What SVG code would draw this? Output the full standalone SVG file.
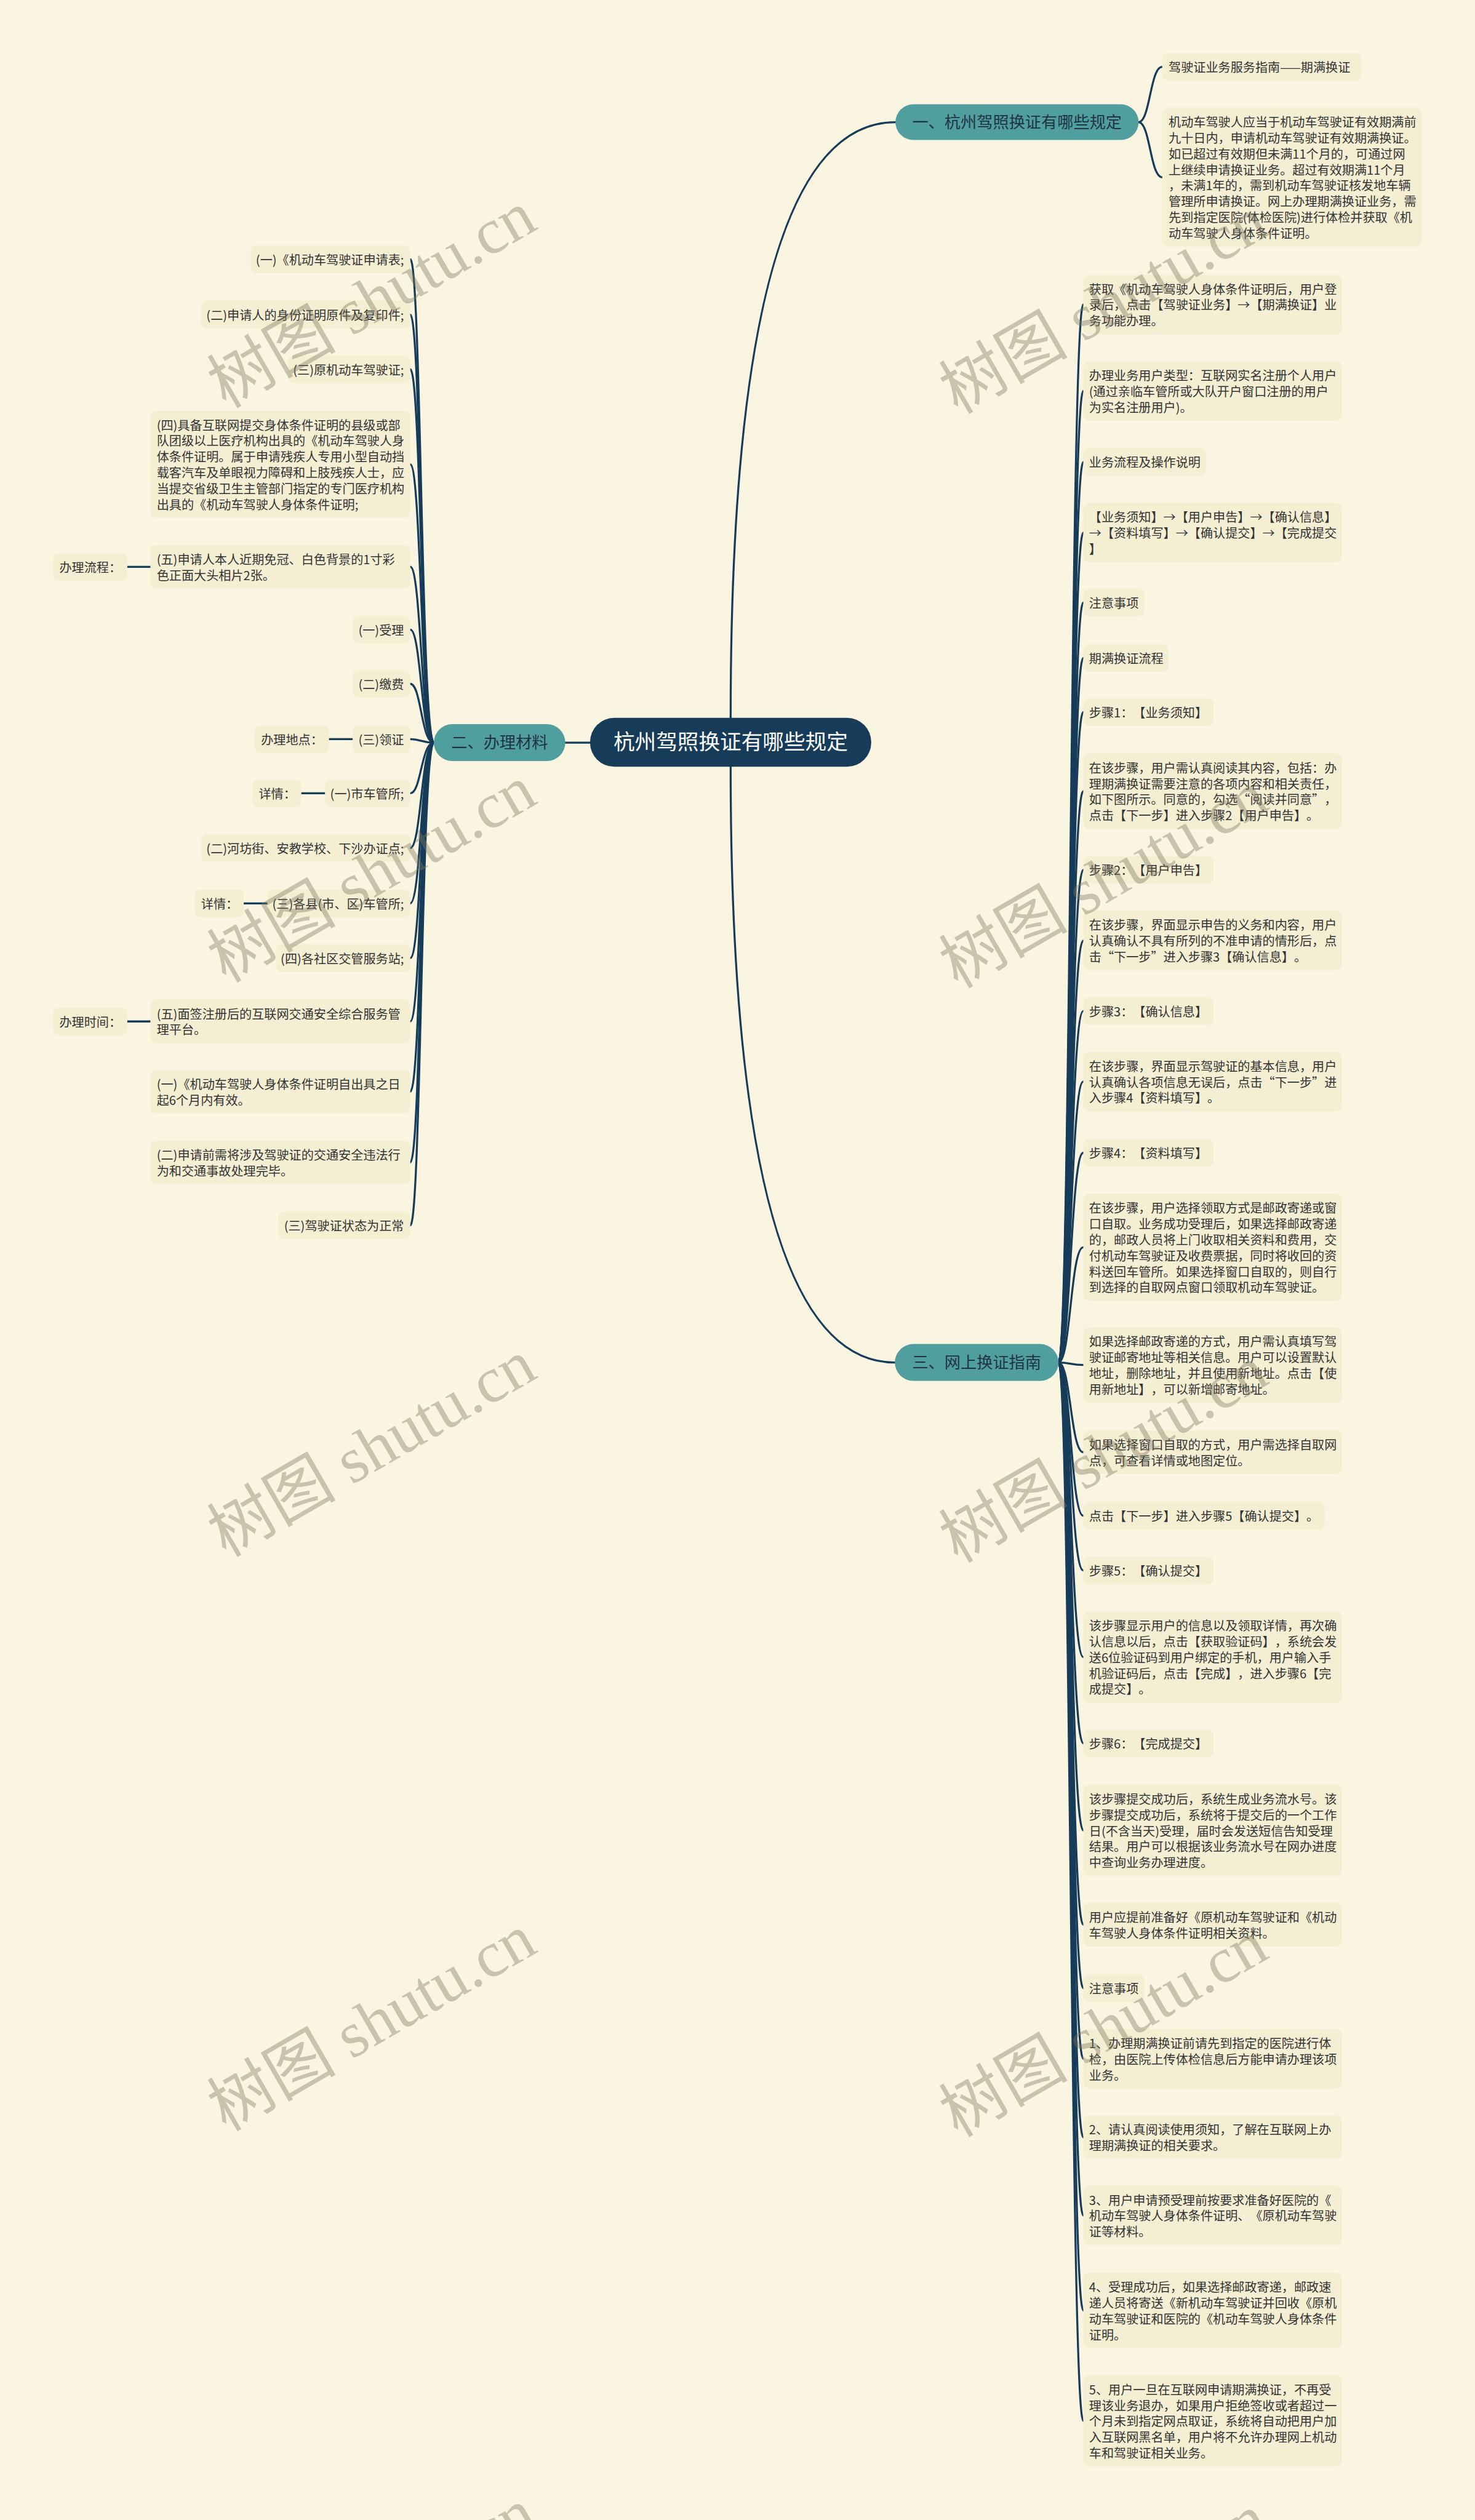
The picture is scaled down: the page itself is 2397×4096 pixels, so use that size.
<svg xmlns="http://www.w3.org/2000/svg" width="2397" height="4096" viewBox="0 0 2397 4096">
<style>
.lf{fill:#f4eed2}
.t{font-family:"Noto Sans CJK SC","Noto Sans",sans-serif;font-size:21.5px;fill:#333;text-spacing-trim:space-all}
.e{text-anchor:end}
.br{fill:#519e9f}
.bt{font-family:"Noto Sans CJK SC","Noto Sans",sans-serif;font-size:28px;fill:#1f3542;text-anchor:middle}
.rt{font-family:"Noto Sans CJK SC","Noto Sans",sans-serif;font-size:37px;fill:#ffffff;text-anchor:middle}
.c{fill:none;stroke:#173c5a;stroke-width:3.5;stroke-linecap:round}
.wm{font-family:"Liberation Serif","Noto Sans CJK SC",serif;font-size:112px;fill:#7d7760;fill-opacity:0.4;text-anchor:middle}
</style>
<rect x="0" y="0" width="2397" height="4096" fill="#faf5e1"/>
<g transform="scale(0.9364)">
<g id="connectors">
<path class="c" d="M1268,1246 Q1268,212 1554,212"/>
<path class="c" d="M1268,1331 Q1268,2365 1553,2365"/>
<path class="c" d="M1024,1289 L981,1289"/>
<path class="c" d="M1976,212 C1996,212 1996,116 2017,116"/>
<path class="c" d="M1976,212 C1996,212 1996,307.6 2017,307.6"/>
<path class="c" d="M1837,2365 C1858,2365 1858,528.6 1880,528.6"/>
<path class="c" d="M1837,2365 C1858,2365 1858,678.6 1880,678.6"/>
<path class="c" d="M1837,2365 C1858,2365 1858,802 1880,802"/>
<path class="c" d="M1837,2365 C1858,2365 1858,924.6 1880,924.6"/>
<path class="c" d="M1837,2365 C1858,2365 1858,1046 1880,1046"/>
<path class="c" d="M1837,2365 C1858,2365 1858,1142 1880,1142"/>
<path class="c" d="M1837,2365 C1858,2365 1858,1236 1880,1236"/>
<path class="c" d="M1837,2365 C1858,2365 1858,1373.4 1880,1373.4"/>
<path class="c" d="M1837,2365 C1858,2365 1858,1510 1880,1510"/>
<path class="c" d="M1837,2365 C1858,2365 1858,1632.6 1880,1632.6"/>
<path class="c" d="M1837,2365 C1858,2365 1858,1755 1880,1755"/>
<path class="c" d="M1837,2365 C1858,2365 1858,1877.6 1880,1877.6"/>
<path class="c" d="M1837,2365 C1858,2365 1858,2001 1880,2001"/>
<path class="c" d="M1837,2365 C1858,2365 1858,2165 1880,2165"/>
<path class="c" d="M1837,2365 C1858,2365 1858,2369.4 1880,2369.4"/>
<path class="c" d="M1837,2365 C1858,2365 1858,2520.8 1880,2520.8"/>
<path class="c" d="M1837,2365 C1858,2365 1858,2631 1880,2631"/>
<path class="c" d="M1837,2365 C1858,2365 1858,2726 1880,2726"/>
<path class="c" d="M1837,2365 C1858,2365 1858,2876.2 1880,2876.2"/>
<path class="c" d="M1837,2365 C1858,2365 1858,3026 1880,3026"/>
<path class="c" d="M1837,2365 C1858,2365 1858,3177.2 1880,3177.2"/>
<path class="c" d="M1837,2365 C1858,2365 1858,3340.8 1880,3340.8"/>
<path class="c" d="M1837,2365 C1858,2365 1858,3451 1880,3451"/>
<path class="c" d="M1837,2365 C1858,2365 1858,3573.6 1880,3573.6"/>
<path class="c" d="M1837,2365 C1858,2365 1858,3709.8 1880,3709.8"/>
<path class="c" d="M1837,2365 C1858,2365 1858,3845.6 1880,3845.6"/>
<path class="c" d="M1837,2365 C1858,2365 1858,4010.4 1880,4010.4"/>
<path class="c" d="M1837,2365 C1858,2365 1858,4202.2 1880,4202.2"/>
<path class="c" d="M753,1289 C731,1289 731,450 712,450"/>
<path class="c" d="M753,1289 C731,1289 731,546 712,546"/>
<path class="c" d="M753,1289 C731,1289 731,641 712,641"/>
<path class="c" d="M753,1289 C731,1289 731,806 712,806"/>
<path class="c" d="M753,1289 C731,1289 731,983.8 712,983.8"/>
<path class="c" d="M753,1289 C731,1289 731,1093 712,1093"/>
<path class="c" d="M753,1289 C731,1289 731,1187 712,1187"/>
<path class="c" d="M753,1289 C731,1289 731,1283 712,1283"/>
<path class="c" d="M753,1289 C731,1289 731,1377 712,1377"/>
<path class="c" d="M753,1289 C731,1289 731,1472 712,1472"/>
<path class="c" d="M753,1289 C731,1289 731,1568 712,1568"/>
<path class="c" d="M753,1289 C731,1289 731,1663 712,1663"/>
<path class="c" d="M753,1289 C731,1289 731,1772.8 712,1772.8"/>
<path class="c" d="M753,1289 C731,1289 731,1894.8 712,1894.8"/>
<path class="c" d="M753,1289 C731,1289 731,2017.8 712,2017.8"/>
<path class="c" d="M753,1289 C731,1289 731,2127 712,2127"/>
<path class="c" d="M221,984 L261,984"/>
<path class="c" d="M571,1283 L612,1283"/>
<path class="c" d="M523,1377 L564,1377"/>
<path class="c" d="M423,1568 L464,1568"/>
<path class="c" d="M221,1773 L261,1773"/>
</g>
<g id="root"><rect x="1024" y="1246" width="488" height="85" rx="42" fill="#173c5a"/><text class="rt" x="1268" y="1301">杭州驾照换证有哪些规定</text></g>
<g id="b1"><rect class="br" x="1554" y="181" width="422" height="62" rx="31"/><text class="bt" x="1765" y="222">一、杭州驾照换证有哪些规定</text></g>
<g id="b2"><rect class="br" x="753" y="1257" width="228" height="64" rx="32"/><text class="bt" x="867" y="1299">二、办理材料</text></g>
<g id="b3"><rect class="br" x="1553" y="2333" width="284" height="64" rx="32"/><text class="bt" x="1695" y="2375">三、网上换证指南</text></g>

<g id="b1c1"><rect class="lf" x="2017" y="92" width="346" height="48" rx="10"/><text class="t" x="2028" y="125">驾驶证业务服务指南——期满换证</text></g>
<g id="b1c2"><rect class="lf" x="2017" y="187" width="451" height="241.2" rx="10"/><text class="t" y="220"><tspan x="2028">机动车驾驶人应当于机动车驾驶证有效期满前</tspan><tspan x="2028" dy="27.6">九十日内，申请机动车驾驶证有效期满换证。</tspan><tspan x="2028" dy="27.6">如已超过有效期但未满11个月的，可通过网</tspan><tspan x="2028" dy="27.6">上继续申请换证业务。超过有效期满11个月</tspan><tspan x="2028" dy="27.6">，未满1年的，需到机动车驾驶证核发地车辆</tspan><tspan x="2028" dy="27.6">管理所申请换证。网上办理期满换证业务，需</tspan><tspan x="2028" dy="27.6">先到指定医院(体检医院)进行体检并获取《机</tspan><tspan x="2028" dy="27.6">动车驾驶人身体条件证明。</tspan></text></g>

<g id="r1"><rect class="lf" x="1880" y="477" width="449" height="103.2" rx="10"/><text class="t" y="510"><tspan x="1890">获取《机动车驾驶人身体条件证明后，用户登</tspan><tspan x="1890" dy="27.6">录后，点击【驾驶证业务】→【期满换证】业</tspan><tspan x="1890" dy="27.6">务功能办理。</tspan></text></g>
<g id="r2"><rect class="lf" x="1880" y="627" width="449" height="103.2" rx="10"/><text class="t" y="660"><tspan x="1890">办理业务用户类型：互联网实名注册个人用户</tspan><tspan x="1890" dy="27.6">(通过亲临车管所或大队开户窗口注册的用户</tspan><tspan x="1890" dy="27.6">为实名注册用户)。</tspan></text></g>
<g id="r3"><rect class="lf" x="1880" y="778" width="213" height="48" rx="10"/><text class="t" x="1890" y="811">业务流程及操作说明</text></g>
<g id="r4"><rect class="lf" x="1880" y="873" width="449" height="103.2" rx="10"/><text class="t" y="906"><tspan x="1890">【业务须知】→【用户申告】→【确认信息】</tspan><tspan x="1890" dy="27.6">→【资料填写】→【确认提交】→【完成提交</tspan><tspan x="1890" dy="27.6">】</tspan></text></g>
<g id="r5"><rect class="lf" x="1880" y="1022" width="106" height="48" rx="10"/><text class="t" x="1890" y="1055">注意事项</text></g>
<g id="r6"><rect class="lf" x="1880" y="1118" width="148" height="48" rx="10"/><text class="t" x="1890" y="1151">期满换证流程</text></g>
<g id="r7"><rect class="lf" x="1880" y="1212" width="226" height="48" rx="10"/><text class="t" x="1890" y="1245">步骤1：【业务须知】</text></g>
<g id="r8"><rect class="lf" x="1880" y="1308" width="449" height="130.8" rx="10"/><text class="t" y="1341"><tspan x="1890">在该步骤，用户需认真阅读其内容，包括：办</tspan><tspan x="1890" dy="27.6">理期满换证需要注意的各项内容和相关责任，</tspan><tspan x="1890" dy="27.6">如下图所示。同意的，勾选“阅读并同意”，</tspan><tspan x="1890" dy="27.6">点击【下一步】进入步骤2【用户申告】。</tspan></text></g>
<g id="r9"><rect class="lf" x="1880" y="1486" width="226" height="48" rx="10"/><text class="t" x="1890" y="1519">步骤2：【用户申告】</text></g>
<g id="r10"><rect class="lf" x="1880" y="1581" width="449" height="103.2" rx="10"/><text class="t" y="1614"><tspan x="1890">在该步骤，界面显示申告的义务和内容，用户</tspan><tspan x="1890" dy="27.6">认真确认不具有所列的不准申请的情形后，点</tspan><tspan x="1890" dy="27.6">击“下一步”进入步骤3【确认信息】。</tspan></text></g>
<g id="r11"><rect class="lf" x="1880" y="1731" width="226" height="48" rx="10"/><text class="t" x="1890" y="1764">步骤3：【确认信息】</text></g>
<g id="r12"><rect class="lf" x="1880" y="1826" width="449" height="103.2" rx="10"/><text class="t" y="1859"><tspan x="1890">在该步骤，界面显示驾驶证的基本信息，用户</tspan><tspan x="1890" dy="27.6">认真确认各项信息无误后，点击“下一步”进</tspan><tspan x="1890" dy="27.6">入步骤4【资料填写】。</tspan></text></g>
<g id="r13"><rect class="lf" x="1880" y="1977" width="226" height="48" rx="10"/><text class="t" x="1890" y="2010">步骤4：【资料填写】</text></g>
<g id="r14"><rect class="lf" x="1880" y="2072" width="449" height="186" rx="10"/><text class="t" y="2105"><tspan x="1890">在该步骤，用户选择领取方式是邮政寄递或窗</tspan><tspan x="1890" dy="27.6">口自取。业务成功受理后，如果选择邮政寄递</tspan><tspan x="1890" dy="27.6">的，邮政人员将上门收取相关资料和费用，交</tspan><tspan x="1890" dy="27.6">付机动车驾驶证及收费票据，同时将收回的资</tspan><tspan x="1890" dy="27.6">料送回车管所。如果选择窗口自取的，则自行</tspan><tspan x="1890" dy="27.6">到选择的自取网点窗口领取机动车驾驶证。</tspan></text></g>
<g id="r15"><rect class="lf" x="1880" y="2304" width="449" height="130.8" rx="10"/><text class="t" y="2337"><tspan x="1890">如果选择邮政寄递的方式，用户需认真填写驾</tspan><tspan x="1890" dy="27.6">驶证邮寄地址等相关信息。用户可以设置默认</tspan><tspan x="1890" dy="27.6">地址，删除地址，并且使用新地址。点击【使</tspan><tspan x="1890" dy="27.6">用新地址】，可以新增邮寄地址。</tspan></text></g>
<g id="r16"><rect class="lf" x="1880" y="2483" width="449" height="75.6" rx="10"/><text class="t" y="2516"><tspan x="1890">如果选择窗口自取的方式，用户需选择自取网</tspan><tspan x="1890" dy="27.6">点，可查看详情或地图定位。</tspan></text></g>
<g id="r17"><rect class="lf" x="1880" y="2607" width="419" height="48" rx="10"/><text class="t" x="1890" y="2640">点击【下一步】进入步骤5【确认提交】。</text></g>
<g id="r18"><rect class="lf" x="1880" y="2702" width="226" height="48" rx="10"/><text class="t" x="1890" y="2735">步骤5：【确认提交】</text></g>
<g id="r19"><rect class="lf" x="1880" y="2797" width="449" height="158.4" rx="10"/><text class="t" y="2830"><tspan x="1890">该步骤显示用户的信息以及领取详情，再次确</tspan><tspan x="1890" dy="27.6">认信息以后，点击【获取验证码】，系统会发</tspan><tspan x="1890" dy="27.6">送6位验证码到用户绑定的手机，用户输入手</tspan><tspan x="1890" dy="27.6">机验证码后，点击【完成】，进入步骤6【完</tspan><tspan x="1890" dy="27.6">成提交】。</tspan></text></g>
<g id="r20"><rect class="lf" x="1880" y="3002" width="226" height="48" rx="10"/><text class="t" x="1890" y="3035">步骤6：【完成提交】</text></g>
<g id="r21"><rect class="lf" x="1880" y="3098" width="449" height="158.4" rx="10"/><text class="t" y="3131"><tspan x="1890">该步骤提交成功后，系统生成业务流水号。该</tspan><tspan x="1890" dy="27.6">步骤提交成功后，系统将于提交后的一个工作</tspan><tspan x="1890" dy="27.6">日(不含当天)受理，届时会发送短信告知受理</tspan><tspan x="1890" dy="27.6">结果。用户可以根据该业务流水号在网办进度</tspan><tspan x="1890" dy="27.6">中查询业务办理进度。</tspan></text></g>
<g id="r22"><rect class="lf" x="1880" y="3303" width="449" height="75.6" rx="10"/><text class="t" y="3336"><tspan x="1890">用户应提前准备好《原机动车驾驶证和《机动</tspan><tspan x="1890" dy="27.6">车驾驶人身体条件证明相关资料。</tspan></text></g>
<g id="r23"><rect class="lf" x="1880" y="3427" width="106" height="48" rx="10"/><text class="t" x="1890" y="3460">注意事项</text></g>
<g id="r24"><rect class="lf" x="1880" y="3522" width="449" height="103.2" rx="10"/><text class="t" y="3555"><tspan x="1890">1、办理期满换证前请先到指定的医院进行体</tspan><tspan x="1890" dy="27.6">检，由医院上传体检信息后方能申请办理该项</tspan><tspan x="1890" dy="27.6">业务。</tspan></text></g>
<g id="r25"><rect class="lf" x="1880" y="3672" width="449" height="75.6" rx="10"/><text class="t" y="3705"><tspan x="1890">2、请认真阅读使用须知，了解在互联网上办</tspan><tspan x="1890" dy="27.6">理期满换证的相关要求。</tspan></text></g>
<g id="r26"><rect class="lf" x="1880" y="3794" width="449" height="103.2" rx="10"/><text class="t" y="3827"><tspan x="1890">3、用户申请预受理前按要求准备好医院的《</tspan><tspan x="1890" dy="27.6">机动车驾驶人身体条件证明、《原机动车驾驶</tspan><tspan x="1890" dy="27.6">证等材料。</tspan></text></g>
<g id="r27"><rect class="lf" x="1880" y="3945" width="449" height="130.8" rx="10"/><text class="t" y="3978"><tspan x="1890">4、受理成功后，如果选择邮政寄递，邮政速</tspan><tspan x="1890" dy="27.6">递人员将寄送《新机动车驾驶证并回收《原机</tspan><tspan x="1890" dy="27.6">动车驾驶证和医院的《机动车驾驶人身体条件</tspan><tspan x="1890" dy="27.6">证明。</tspan></text></g>
<g id="r28"><rect class="lf" x="1880" y="4123" width="449" height="158.4" rx="10"/><text class="t" y="4156"><tspan x="1890">5、用户一旦在互联网申请期满换证，不再受</tspan><tspan x="1890" dy="27.6">理该业务退办，如果用户拒绝签收或者超过一</tspan><tspan x="1890" dy="27.6">个月未到指定网点取证，系统将自动把用户加</tspan><tspan x="1890" dy="27.6">入互联网黑名单，用户将不允许办理网上机动</tspan><tspan x="1890" dy="27.6">车和驾驶证相关业务。</tspan></text></g>

<g id="l1"><rect class="lf" x="435" y="426" width="277" height="48" rx="10"/><text class="t e" x="701" y="459">(一)《机动车驾驶证申请表;</text></g>
<g id="l2"><rect class="lf" x="349" y="522" width="363" height="48" rx="10"/><text class="t e" x="701" y="555">(二)申请人的身份证明原件及复印件;</text></g>
<g id="l3"><rect class="lf" x="500" y="617" width="212" height="48" rx="10"/><text class="t e" x="701" y="650">(三)原机动车驾驶证;</text></g>
<g id="l4"><rect class="lf" x="261" y="713" width="451" height="186" rx="10"/><text class="t" y="746"><tspan x="272">(四)具备互联网提交身体条件证明的县级或部</tspan><tspan x="272" dy="27.6">队团级以上医疗机构出具的《机动车驾驶人身</tspan><tspan x="272" dy="27.6">体条件证明。属于申请残疾人专用小型自动挡</tspan><tspan x="272" dy="27.6">载客汽车及单眼视力障碍和上肢残疾人士，应</tspan><tspan x="272" dy="27.6">当提交省级卫生主管部门指定的专门医疗机构</tspan><tspan x="272" dy="27.6">出具的《机动车驾驶人身体条件证明;</tspan></text></g>
<g id="l5"><rect class="lf" x="261" y="946" width="451" height="75.6" rx="10"/><text class="t" y="979"><tspan x="272">(五)申请人本人近期免冠、白色背景的1寸彩</tspan><tspan x="272" dy="27.6">色正面大头相片2张。</tspan></text></g>
<g id="l5a"><rect class="lf" x="92" y="960" width="129" height="48" rx="10"/><text class="t" x="103" y="993">办理流程：</text></g>
<g id="l6"><rect class="lf" x="612" y="1069" width="100" height="48" rx="10"/><text class="t e" x="701" y="1102">(一)受理</text></g>
<g id="l7"><rect class="lf" x="612" y="1163" width="100" height="48" rx="10"/><text class="t e" x="701" y="1196">(二)缴费</text></g>
<g id="l8"><rect class="lf" x="612" y="1259" width="100" height="48" rx="10"/><text class="t e" x="701" y="1292">(三)领证</text></g>
<g id="l8a"><rect class="lf" x="442" y="1259" width="129" height="48" rx="10"/><text class="t" x="453" y="1292">办理地点：</text></g>
<g id="l9"><rect class="lf" x="564" y="1353" width="148" height="48" rx="10"/><text class="t e" x="701" y="1386">(一)市车管所;</text></g>
<g id="l9a"><rect class="lf" x="438" y="1353" width="85" height="48" rx="10"/><text class="t" x="449" y="1386">详情：</text></g>
<g id="l10"><rect class="lf" x="349" y="1448" width="363" height="48" rx="10"/><text class="t e" x="701" y="1481">(二)河坊街、安教学校、下沙办证点;</text></g>
<g id="l11"><rect class="lf" x="464" y="1544" width="248" height="48" rx="10"/><text class="t e" x="701" y="1577">(三)各县(市、区)车管所;</text></g>
<g id="l11a"><rect class="lf" x="338" y="1544" width="85" height="48" rx="10"/><text class="t" x="349" y="1577">详情：</text></g>
<g id="l12"><rect class="lf" x="479" y="1639" width="233" height="48" rx="10"/><text class="t e" x="701" y="1672">(四)各社区交管服务站;</text></g>
<g id="l13"><rect class="lf" x="261" y="1735" width="451" height="75.6" rx="10"/><text class="t" y="1768"><tspan x="272">(五)面签注册后的互联网交通安全综合服务管</tspan><tspan x="272" dy="27.6">理平台。</tspan></text></g>
<g id="l13a"><rect class="lf" x="92" y="1749" width="129" height="48" rx="10"/><text class="t" x="103" y="1782">办理时间：</text></g>
<g id="l14"><rect class="lf" x="261" y="1857" width="451" height="75.6" rx="10"/><text class="t" y="1890"><tspan x="272">(一)《机动车驾驶人身体条件证明自出具之日</tspan><tspan x="272" dy="27.6">起6个月内有效。</tspan></text></g>
<g id="l15"><rect class="lf" x="261" y="1980" width="451" height="75.6" rx="10"/><text class="t" y="2013"><tspan x="272">(二)申请前需将涉及驾驶证的交通安全违法行</tspan><tspan x="272" dy="27.6">为和交通事故处理完毕。</tspan></text></g>
<g id="l16"><rect class="lf" x="483" y="2103" width="229" height="48" rx="10"/><text class="t e" x="701" y="2136">(三)驾驶证状态为正常</text></g>

<g id="watermarks">
<text class="wm" transform="translate(645,520) rotate(-30)" y="38">树图 shutu.cn</text>
<text class="wm" transform="translate(1915,530) rotate(-30)" y="38">树图 shutu.cn</text>
<text class="wm" transform="translate(645,1517) rotate(-30)" y="38">树图 shutu.cn</text>
<text class="wm" transform="translate(1915,1527) rotate(-30)" y="38">树图 shutu.cn</text>
<text class="wm" transform="translate(645,2514) rotate(-30)" y="38">树图 shutu.cn</text>
<text class="wm" transform="translate(1915,2524) rotate(-30)" y="38">树图 shutu.cn</text>
<text class="wm" transform="translate(645,3511) rotate(-30)" y="38">树图 shutu.cn</text>
<text class="wm" transform="translate(1915,3521) rotate(-30)" y="38">树图 shutu.cn</text>
<text class="wm" transform="translate(645,4508) rotate(-30)" y="38">树图 shutu.cn</text>
<text class="wm" transform="translate(1915,4518) rotate(-30)" y="38">树图 shutu.cn</text>
</g>
</g>
</svg>
